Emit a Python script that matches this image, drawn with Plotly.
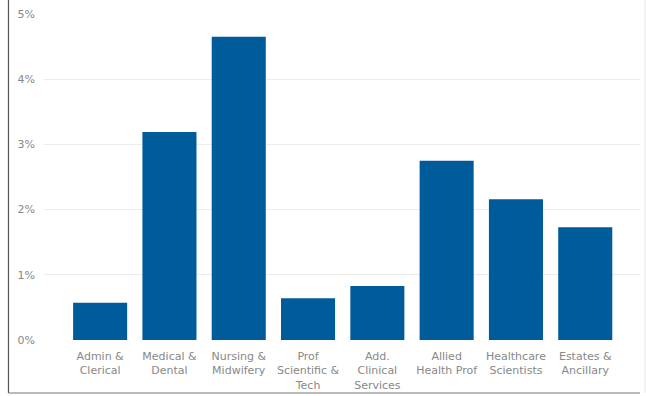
import plotly.graph_objects as go

categories = ["Admin &<br>Clerical", "Medical &<br>Dental", "Nursing &<br>Midwifery",
              "Prof<br>Scientific &<br>Tech", "Add.<br>Clinical<br>Services",
              "Allied<br>Health Prof", "Healthcare<br>Scientists", "Estates &<br>Ancillary"]
values = [0.57, 3.19, 4.65, 0.64, 0.83, 2.75, 2.16, 1.73]
y_ticks = [0, 1, 2, 3, 4, 5]
y_tick_labels = ["0%", "1%", "2%", "3%", "4%", "5%"]

fig = go.Figure(go.Bar(x=list(range(len(categories))), y=values,
                       marker=dict(color="#005b9a", line=dict(width=0)),
                       hoverinfo="skip"))

fig.update_layout(
    width=646, height=396,
    margin=dict(l=44, r=6, t=14, b=56),
    paper_bgcolor="white", plot_bgcolor="white",
    bargap=0.22,
    showlegend=False,
    font=dict(family="DejaVu Sans", size=11, color="#888888"),
    xaxis=dict(tickmode="array", tickvals=list(range(len(categories))), ticktext=categories,
               range=[-0.81, 7.79], showgrid=False, zeroline=False, showline=False,
               automargin=False,
               ticks="", ticklabelstandoff=8, tickfont=dict(size=11, color="#888888")),
    yaxis=dict(tickmode="array", tickvals=y_ticks, ticktext=y_tick_labels, range=[0, 5],
               showgrid=True, gridcolor="#ececec", gridwidth=1, zeroline=False,
               showline=False, ticks="", ticklabelstandoff=8, automargin=False,
               tickfont=dict(size=11, color="#888888")),
    shapes=[
        dict(type="line", xref="paper", yref="paper", x0=-0.0596, x1=-0.0596, y0=-0.1626, y1=1.05,
             line=dict(color="#555555", width=1.2)),
        dict(type="line", xref="paper", yref="paper", x0=-0.0596, x1=1.0, y0=-0.1626, y1=-0.1626,
             line=dict(color="#777777", width=1)),
        dict(type="line", xref="paper", yref="paper", x0=1.0085, x1=1.0085, y0=-0.1626, y1=1.05,
             line=dict(color="#e6e6e6", width=1)),
    ],
)

fig.write_html("out.html")
